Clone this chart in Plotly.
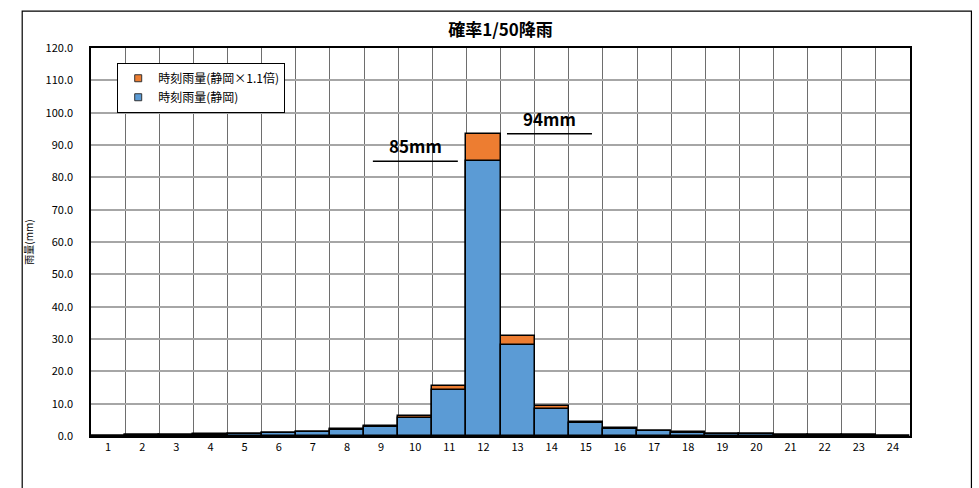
import plotly.graph_objects as go

# Hourly rainfall for the 1/50 probability storm
hours = [str(h) for h in range(1, 25)]
rain_shizuoka = [0.0, 0.3, 0.35, 0.45, 0.6, 0.85, 1.25, 1.9, 2.9, 5.6, 14.2, 85.0,
                 28.2, 8.4, 4.0, 2.3, 1.5, 1.0, 0.7, 0.55, 0.4, 0.3, 0.25, 0.0]
rain_shizuoka_x11 = [0.0, 0.33, 0.39, 0.5, 0.66, 0.94, 1.38, 2.09, 3.19, 6.16, 15.62, 93.5,
                     31.02, 9.24, 4.4, 2.53, 1.65, 1.1, 0.77, 0.61, 0.44, 0.33, 0.28, 0.0]

series_names = ["時刻雨量(静岡×1.1倍)", "時刻雨量(静岡)"]
series_colors = ["#ED7D31", "#5B9BD5"]

# Peak callouts: value and the hour span of the underline (category index coords)
peak_labels = ["85mm", "94mm"]
peak_values = [85.0, 93.5]
peak_spans = [(7.76, 10.25), (11.69, 14.18)]

font_jp = "Noto Sans CJK JP"

fig = go.Figure()
for vals, name, color in zip([rain_shizuoka_x11, rain_shizuoka], series_names, series_colors):
    fig.add_trace(go.Bar(
        x=hours, y=vals, name=name, showlegend=False,
        marker=dict(color=color, line=dict(color="black", width=1.5)),
    ))
# small square legend keys
for name, color in zip(series_names, series_colors):
    fig.add_trace(go.Scatter(
        x=[None], y=[None], mode="markers", name=name,
        marker=dict(symbol="square", size=7, color=color, line=dict(color="#333333", width=1)),
    ))

shapes = [
    # outer frame around the whole chart
    dict(type="rect", xref="paper", yref="paper", x0=-0.084, x1=1.075, y0=-0.2, y1=1.095,
         line=dict(color="black", width=1.2), fillcolor="rgba(0,0,0,0)", layer="below"),
]
annotations = []
for label, val, (xa, xb) in zip(peak_labels, peak_values, peak_spans):
    shapes.append(dict(type="line", xref="x", yref="y", x0=xa, x1=xb, y0=val, y1=val,
                       line=dict(color="black", width=1.5)))
    annotations.append(dict(x=(xa + xb) / 2, y=val, xref="x", yref="y", text=f"<b>{label}</b>",
                            showarrow=False, yanchor="bottom", yshift=1,
                            font=dict(family=font_jp, size=17, color="black")))

fig.update_layout(
    width=979, height=488,
    margin=dict(l=91, r=69, t=48, b=52),
    paper_bgcolor="white", plot_bgcolor="white",
    barmode="overlay", bargap=0,
    title=dict(text="<b>確率1/50降雨</b>", x=(91 + 910) / 2 / 979, xanchor="center",
               y=1 - 30 / 488, yanchor="middle",
               font=dict(family=font_jp, size=17, color="black")),
    font=dict(family=font_jp, size=11, color="black"),
    legend=dict(x=0.032, y=0.962, xanchor="left", yanchor="top",
                bgcolor="white", bordercolor="black", borderwidth=1,
                font=dict(family=font_jp, size=12, color="black"),
                itemwidth=30, tracegroupgap=0),
    shapes=shapes,
    annotations=annotations,
)
fig.update_xaxes(type="category", tickson="boundaries", ticklen=0,
                 showgrid=True, gridcolor="#6e6e6e", gridwidth=1,
                 showline=True, linecolor="black", linewidth=1.5, mirror=True,
                 tickfont=dict(family=font_jp, size=11, color="black"))
fig.update_yaxes(range=[0, 120], dtick=10, tickformat=".1f",
                 showgrid=True, gridcolor="#a6a6a6", gridwidth=1.5,
                 showline=True, linecolor="black", linewidth=1.5, mirror=True,
                 ticks="", ticklabelstandoff=14,
                 title=dict(text="雨量(mm)", font=dict(family=font_jp, size=10, color="black"),
                            standoff=10),
                 tickfont=dict(family=font_jp, size=11, color="black"))

fig.write_html("out.html")
